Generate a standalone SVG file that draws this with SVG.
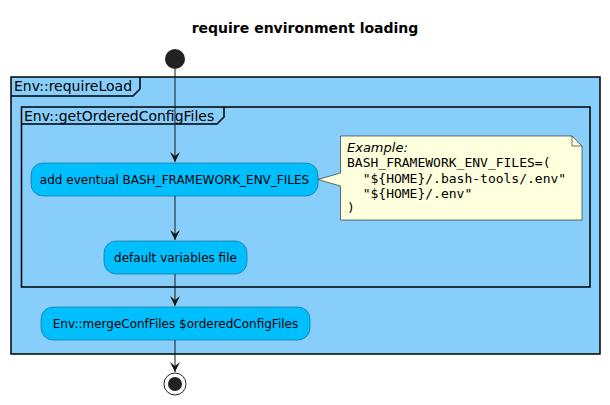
<svg xmlns="http://www.w3.org/2000/svg" width="610" height="405" viewBox="0 0 610 405">
<defs>
<style>
.title{font-family:"DejaVu Sans",sans-serif;font-size:14px;font-weight:bold;fill:#000}
.frame{fill:#87CEFA;stroke:#000;stroke-width:1.5}
.flab{font-family:"DejaVu Sans",sans-serif;font-size:14px;fill:#000}
.act{fill:#00BFFF;stroke:#1a5f7a;stroke-width:0.6}
.at{font-family:"DejaVu Sans",sans-serif;font-size:12px;fill:#000;text-anchor:middle}
.note{fill:#FEFFDD;stroke:#181818;stroke-width:0.6}
.nt{font-family:"DejaVu Sans Mono",monospace;font-size:13px;fill:#000}
.ni{font-family:"DejaVu Sans",sans-serif;font-size:13px;font-style:italic;fill:#000}
.edge{stroke:#181818;stroke-width:1;fill:none}
</style>
<marker id="arr" markerWidth="12" markerHeight="12" refX="10" refY="5" orient="auto" markerUnits="userSpaceOnUse" viewBox="0 0 12 10">
<path d="M0,0 L10,5 L0,10 L4,5 Z" fill="#181818"/>
</marker>
</defs>
<rect width="610" height="405" fill="#fff"/>
<text class="title" x="305" y="33" text-anchor="middle">require environment loading</text>

<g id="frame-requireLoad">
<rect class="frame" x="11" y="77" width="589" height="277"/>
<path d="M11,96 H133 L140,89 V77" fill="none" stroke="#000" stroke-width="1.5"/>
<text class="flab" x="14" y="91">Env::requireLoad</text>
</g>
<g id="frame-getOrderedConfigFiles">
<rect class="frame" x="21.5" y="107" width="568.5" height="180"/>
<path d="M21.5,124 H217 L224,117 V107" fill="none" stroke="#000" stroke-width="1.5"/>
<text class="flab" x="24" y="120.5">Env::getOrderedConfigFiles</text>
</g>

<g id="start"><circle cx="175" cy="59" r="10" fill="#222"/></g>

<g id="act-add">
<rect class="act" x="31" y="163" width="287" height="33" rx="12" ry="12"/>
<text class="at" x="174.5" y="184">add eventual BASH_FRAMEWORK_ENV_FILES</text>
</g>

<g id="note">
<path class="note" d="M340.5,136 H572 L582,146 V220 H340.5 V186 L318,179.5 L340.5,173 Z"/>
<path d="M572,136 V146 H582" fill="none" stroke="#181818" stroke-width="0.6"/>
<text class="ni" x="347" y="152">Example:</text>
<text class="nt" x="347" y="167" xml:space="preserve">BASH_FRAMEWORK_ENV_FILES=(</text>
<text class="nt" x="347" y="182.5" xml:space="preserve">  "${HOME}/.bash-tools/.env"</text>
<text class="nt" x="347" y="197.5" xml:space="preserve">  "${HOME}/.env"</text>
<text class="nt" x="347" y="212">)</text>
</g>

<g id="act-default">
<rect class="act" x="104" y="241" width="143" height="33" rx="12" ry="12"/>
<text class="at" x="175.5" y="262">default variables file</text>
</g>

<g id="act-merge">
<rect class="act" x="41" y="307" width="269" height="33" rx="12" ry="12"/>
<text class="at" x="175.5" y="328">Env::mergeConfFiles $orderedConfigFiles</text>
</g>

<g id="end">
<circle cx="175" cy="384" r="11" fill="#fff" stroke="#222" stroke-width="1"/>
<circle cx="175" cy="384" r="7" fill="#222"/>
</g>

<g id="connectors">
<line class="edge" x1="175" y1="69" x2="175" y2="162" marker-end="url(#arr)"/>
<line class="edge" x1="175" y1="196" x2="175" y2="240" marker-end="url(#arr)"/>
<line class="edge" x1="175" y1="274" x2="175" y2="306" marker-end="url(#arr)"/>
<line class="edge" x1="175" y1="340" x2="175" y2="372" marker-end="url(#arr)"/>
</g>
</svg>
